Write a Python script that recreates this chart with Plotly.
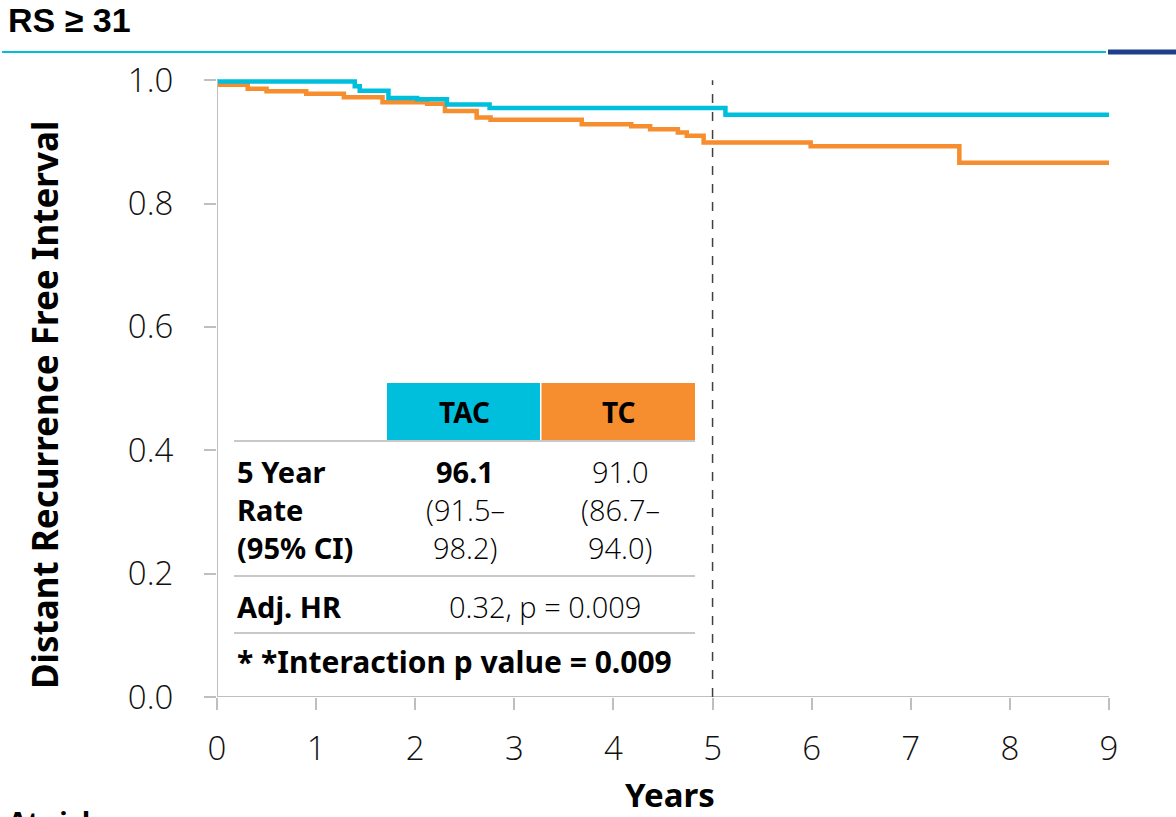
import plotly.graph_objects as go

# ---------------- data ----------------
tac_t = [0, 1.39, 1.44, 1.73, 2.02, 2.32, 2.75, 5.13, 9.0]
tac_s = [0.998, 0.990, 0.983, 0.971, 0.969, 0.9605, 0.955, 0.944, 0.944]

tc_t = [0, 0.31, 0.50, 0.90, 1.28, 1.67, 2.12, 2.30, 2.62, 2.76, 3.68, 4.18, 4.37, 4.65,
        4.74, 4.91, 5.99, 7.41, 7.49, 9.0]
tc_s = [0.9924, 0.986, 0.982, 0.978, 0.9725, 0.964, 0.9617, 0.950, 0.9395, 0.936, 0.9287,
        0.9254, 0.9206, 0.915, 0.9097, 0.899, 0.893, 0.893, 0.866, 0.866]

x_ticks = [0, 1, 2, 3, 4, 5, 6, 7, 8, 9]
y_ticks = [0.0, 0.2, 0.4, 0.6, 0.8, 1.0]
y_tick_labels = ["0.0", "0.2", "0.4", "0.6", "0.8", "1.0"]

header_labels = ["TAC", "TC"]
rate_tac = ["96.1", "(91.5–", "98.2)"]
rate_tc = ["91.0", "(86.7–", "94.0)"]
row_labels = ["5 Year", "Rate", "(95% CI)"]
hr_text = "0.32, p = 0.009"
interaction_text = "* *Interaction p value = 0.009"

CYAN = "#00BFDD"
ORANGE = "#F68D2E"
NAVY = "#1F3F8C"
GRID = "#BFBFBF"
FONT = "Noto Sans"
LIGHT = "Open Sans"

W, H = 1176, 817
ML, MR, MT, MB = 217, 67, 74, 120
PW, PH = W - ML - MR, H - MT - MB


def px(xp):
    return (xp - ML) / PW


def py(yp):
    return (H - MB - yp) / PH


fig = go.Figure()
fig.add_trace(go.Scatter(x=tc_t, y=tc_s, mode="lines", line=dict(color=ORANGE, width=4.5, shape="hv"),
                         showlegend=False, hoverinfo="skip"))
fig.add_trace(go.Scatter(x=tac_t, y=tac_s, mode="lines", line=dict(color=CYAN, width=4.5, shape="hv"),
                         showlegend=False, hoverinfo="skip"))

shapes = []
shapes.append(dict(type="line", xref="x", yref="y", x0=0, x1=9, y0=0, y1=0, line=dict(color=GRID, width=2)))
shapes.append(dict(type="line", xref="x", yref="y", x0=0, x1=0, y0=0, y1=1, line=dict(color=GRID, width=2)))
shapes.append(dict(type="line", xref="x", yref="y", x0=5, x1=5, y0=0, y1=1,
                   line=dict(color="#404040", width=1.5, dash="dash")))
shapes.append(dict(type="line", xref="paper", yref="paper", x0=px(2), x1=px(1106), y0=py(52), y1=py(52),
                   line=dict(color=CYAN, width=2)))
shapes.append(dict(type="line", xref="paper", yref="paper", x0=px(1108), x1=px(1176), y0=py(52), y1=py(52),
                   line=dict(color=NAVY, width=5)))
shapes.append(dict(type="rect", xref="paper", yref="paper", x0=px(387), x1=px(540), y0=py(440), y1=py(383),
                   fillcolor=CYAN, line=dict(width=0), layer="above"))
shapes.append(dict(type="rect", xref="paper", yref="paper", x0=px(541.5), x1=px(695), y0=py(440), y1=py(383),
                   fillcolor=ORANGE, line=dict(width=0), layer="above"))
for yl in [441, 576, 633]:
    shapes.append(dict(type="line", xref="paper", yref="paper", x0=px(234), x1=px(695), y0=py(yl), y1=py(yl),
                       line=dict(color="#C8C8C8", width=2)))

ann = []


def add_text(text, xp, yp, size=26, xanchor="center", color="black", font=FONT, weight="normal"):
    ann.append(dict(text=text, x=px(xp), y=py(yp), xref="paper", yref="paper", xanchor=xanchor,
                    yanchor="middle", showarrow=False,
                    font=dict(family=font, size=size, color=color, weight=weight)))


add_text("RS ≥ 31", 6, 20, size=34, xanchor="left", font="Liberation Sans Narrow, Liberation Sans",
         weight="bold")
add_text(header_labels[0], 464, 412, size=28, weight="bold")
add_text(header_labels[1], 619, 412, size=28, weight="bold")
for i, (a, b, c) in enumerate(zip(row_labels, rate_tac, rate_tc)):
    yy = 471 + i * 38
    add_text(a, 235, yy, size=29, xanchor="left", weight="bold")
    if i == 0:
        add_text(b, 465, yy, size=29, weight="bold")
    else:
        add_text(b, 465, yy, size=29, font=LIGHT, weight=300)
    add_text(c, 620, yy, size=29, font=LIGHT, weight=300)
add_text("Adj. HR", 235, 606, size=29, xanchor="left", weight="bold")
add_text(hr_text, 545, 606, size=29, font=LIGHT, weight=300)
add_text(interaction_text, 235, 661, size=30, xanchor="left", weight="bold")
add_text("Years", 670, 794, size=33, weight="bold")
add_text("At risk", 6, 822, size=28, xanchor="left", weight="bold")
ann.append(dict(text="Distant Recurrence Free Interval", x=px(45), y=py(405), xref="paper", yref="paper",
                textangle=-90, showarrow=False, xanchor="center", yanchor="middle",
                font=dict(family=FONT, size=35, color="black", weight="bold")))

fig.update_layout(
    width=W, height=H,
    margin=dict(l=ML, r=MR, t=MT, b=MB, pad=0),
    paper_bgcolor="white", plot_bgcolor="white",
    shapes=shapes, annotations=ann,
    xaxis=dict(range=[0, 9], tickvals=x_ticks, ticks="outside", ticklen=12, tickwidth=2, tickcolor=GRID,
               showgrid=False, zeroline=False, showline=False,
               tickfont=dict(family=LIGHT, size=33, color="#111", weight=300), ticklabelstandoff=10),
    yaxis=dict(range=[0, 1.01], tickvals=y_ticks, ticktext=y_tick_labels, ticks="outside", ticklen=12,
               tickwidth=2, tickcolor=GRID, showgrid=False, zeroline=False, showline=False,
               tickfont=dict(family=LIGHT, size=33, color="#111", weight=300), ticklabelstandoff=24),
)

fig.write_html("out.html")
